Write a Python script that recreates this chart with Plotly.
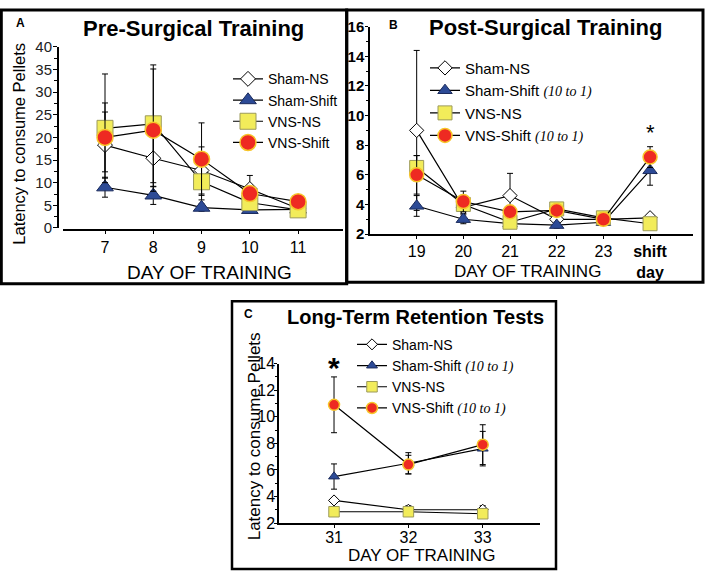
import plotly.graph_objects as go

W, H = 708, 580
def px(x): return x / W
def py(y): return 1 - y / H

# ---------------- data ----------------
series = ["Sham-NS", "Sham-Shift", "VNS-NS", "VNS-Shift"]

# Panel A: Pre-Surgical Training
days_a = [7, 8, 9, 10, 11]
sham_ns_a = [18.3, 15.4, 12.7, 8.6, 4.3]
sham_ns_a_err = [7.3, 6.3, 5.2, 3.0, 0.6]
sham_shift_a = [9.0, 7.2, 4.5, 4.0, 4.1]
sham_shift_a_err = [2.2, 2.0, 0.8, 0.5, 0.4]
vns_ns_a = [22.0, 23.0, 10.2, 5.6, 4.0]
vns_ns_a_err = [12.0, 13.0, 4.0, 1.5, 0.5]
vns_shift_a = [20.0, 21.6, 15.2, 7.6, 5.8]
vns_shift_a_err = [7.6, 13.5, 8.0, 1.5, 0.5]

# Panel B: Post-Surgical Training
days_b = [19, 20, 21, 22, 23, 24]
ticks_b = ["19", "20", "21", "22", "23", "<b>shift</b><br><b>day</b>"]
sham_ns_b = [9.0, 3.8, 4.6, 3.0, 3.0, 3.1]
sham_ns_b_err = [5.4, 0.4, 1.5, 0.3, 0.2, 0.2]
sham_shift_b = [3.9, 3.0, 2.7, 2.6, 2.8, 6.3]
sham_shift_b_err = [0.7, 0.3, 0.2, 0.2, 0.2, 1.0]
vns_ns_b = [6.5, 4.0, 2.8, 3.7, 3.1, 2.7]
vns_ns_b_err = [0.8, 0.3, 0.2, 0.2, 0.2, 0.2]
vns_shift_b = [6.0, 4.2, 3.5, 3.6, 3.0, 7.2]
vns_shift_b_err = [1.3, 0.7, 0.3, 0.3, 0.2, 0.7]

# Panel C: Long-Term Retention Tests
days_c = [31, 32, 33]
sham_ns_c = [3.7, 3.0, 3.0]
sham_ns_c_err = [0.2, 0.3, 0.3]
sham_shift_c = [5.5, 6.5, 7.6]
sham_shift_c_err = [0.95, 0.8, 1.3]
vns_ns_c = [2.85, 2.85, 2.7]
vns_ns_c_err = [0.1, 0.1, 0.1]
vns_shift_c = [10.9, 6.4, 7.9]
vns_shift_c_err = [2.1, 0.7, 1.5]

# ---------------- styles ----------------
FONT = "Liberation Sans, Arial, sans-serif"
BLUE = "#2c4a96"
YEL = "#f2ec5a"
RED = "#ee2a22"
GOLD = "#f7c52a"

def mstyle(kind, size):
    if kind == 0:
        return dict(symbol="diamond", size=size, color="white", line=dict(color="black", width=1))
    if kind == 1:
        return dict(symbol="triangle-up", size=size, color=BLUE, line=dict(color="#1b2b5c", width=1))
    if kind == 2:
        return dict(symbol="square", size=size, color=YEL, line=dict(color="#9c9a5a", width=1))
    return dict(symbol="circle", size=size, color=RED, line=dict(color=GOLD, width=1.5))

SERIF = "<span style=\"font-family:'Liberation Serif', serif; font-style:italic; font-size:14px\">(10 to 1)</span>"

fig = go.Figure()

def add_panel(xs, ys_list, errs_list, sizes, xa, ya, legend, names):
    for k in range(4):
        fig.add_trace(go.Scatter(
            x=xs, y=ys_list[k], mode="lines+markers", name=names[k],
            line=dict(color="black", width=1.2),
            marker=mstyle(k, sizes[k]),
            error_y=dict(type="data", array=errs_list[k], color="black", thickness=1, width=3),
            xaxis=xa, yaxis=ya, legend=legend, cliponaxis=False,
        ))

add_panel(days_a, [sham_ns_a, sham_shift_a, vns_ns_a, vns_shift_a],
          [sham_ns_a_err, sham_shift_a_err, vns_ns_a_err, vns_shift_a_err],
          [11.5, 14.5, 16, 16], "x", "y", "legend", series)

names_bc = ["Sham-NS", "Sham-Shift " + SERIF, "VNS-NS", "VNS-Shift " + SERIF]
add_panel(days_b, [sham_ns_b, sham_shift_b, vns_ns_b, vns_shift_b],
          [sham_ns_b_err, sham_shift_b_err, vns_ns_b_err, vns_shift_b_err],
          [11, 12.5, 14, 14], "x2", "y2", "legend2", names_bc)

add_panel(days_c, [sham_ns_c, sham_shift_c, vns_ns_c, vns_shift_c],
          [sham_ns_c_err, sham_shift_c_err, vns_ns_c_err, vns_shift_c_err],
          [8.5, 9.5, 10.5, 11], "x3", "y3", "legend3", names_bc)

axis_common = dict(showgrid=False, zeroline=False, showline=True, linecolor="black",
                   ticks="outside", tickcolor="black", color="black")

fig.update_layout(
    width=W, height=H,
    margin=dict(l=0, r=0, t=0, b=0),
    paper_bgcolor="white", plot_bgcolor="rgba(0,0,0,0)",
    font=dict(family=FONT, color="black"),
    showlegend=True,
    # Panel A
    xaxis=dict(domain=[px(63), px(343)], range=[6.13, 11.93], anchor="free", position=py(228),
               tickvals=days_a, ticklen=3, linewidth=2, tickfont=dict(size=16), **axis_common),
    yaxis=dict(domain=[py(226), py(39)], range=[0, 40], anchor="free", position=px(58),
               dtick=5, ticklen=4, linewidth=2, tickfont=dict(size=15, color="#222"), ticklabelstandoff=-2,
               minor=dict(dtick=2.5, ticks="outside", ticklen=3, tickcolor="black"), **axis_common),
    # Panel B
    xaxis2=dict(domain=[px(370), px(693)], range=[18.0, 24.92], anchor="y2",
                tickvals=days_b, ticktext=ticks_b, ticklen=3, linewidth=1.5, tickfont=dict(size=16),
                ticklabelstandoff=-1, **axis_common),
    yaxis2=dict(domain=[py(232.3), py(18.3)], range=[2, 16], anchor="x2",
                dtick=2, ticklen=3, linewidth=1.5, tickfont=dict(size=15, family="Liberation Sans, Arial", weight="bold"),
                ticklabelstandoff=-2,
                minor=dict(dtick=1, ticks="outside", ticklen=2, tickcolor="black"), **axis_common),
    # Panel C
    xaxis3=dict(domain=[px(279), px(540)], range=[30.26, 33.77], anchor="y3",
                tickvals=days_c, ticklen=3, linewidth=1.5, tickfont=dict(size=16), ticklabelstandoff=-4,
                **axis_common),
    yaxis3=dict(domain=[py(530.5), py(366)], range=[2, 14], anchor="x3",
                dtick=2, ticklen=3, linewidth=1.5, tickfont=dict(size=16), ticklabelstandoff=-4,
                minor=dict(dtick=1, ticks="outside", ticklen=2, tickcolor="black"), **axis_common),
    legend=dict(x=px(228), y=py(56), xanchor="left", yanchor="top", bgcolor="rgba(0,0,0,0)",
                font=dict(size=14), tracegroupgap=0),
    legend2=dict(x=px(425), y=py(44), xanchor="left", yanchor="top", bgcolor="rgba(0,0,0,0)",
                 font=dict(size=15), tracegroupgap=0),
    legend3=dict(x=px(352), y=py(330), xanchor="left", yanchor="top", bgcolor="rgba(0,0,0,0)",
                 font=dict(size=14), tracegroupgap=0),
)

# Panel borders
shapes = [
    dict(type="rect", xref="paper", yref="paper", x0=px(1.3), x1=px(346.7), y0=py(1), y1=py(283.5),
         line=dict(color="black", width=3)),
    dict(type="rect", xref="paper", yref="paper", x0=px(346.7), x1=px(703), y0=py(1), y1=py(282),
         line=dict(color="black", width=3)),
    dict(type="rect", xref="paper", yref="paper", x0=px(232), x1=px(556), y0=py(301.5), y1=py(578),
         line=dict(color="black", width=2.5)),
]
fig.update_layout(shapes=shapes)

def ann(text, x, y, size, bold=False, angle=0, xanchor="center"):
    fig.add_annotation(text=("<b>%s</b>" % text) if bold else text, x=x, y=y,
                       xref="paper", yref="paper",
                       showarrow=False, textangle=angle, font=dict(size=size, family=FONT, color="black"),
                       xanchor=xanchor, yanchor="middle")

# Titles and labels
ann("Pre-Surgical Training", px(193.5), py(20), 22, bold=True)
ann("Post-Surgical Training", px(545.5), py(19.5), 22, bold=True)
ann("Long-Term Retention Tests", px(285), py(318), 20, bold=True, xanchor="left")
ann("A", px(20), py(14), 12, bold=True)
ann("B", px(393), py(16), 12, bold=True)
ann("C", px(248), py(315), 12, bold=True)

ann("Latency to consume Pellets", px(19), py(139), 16.5, angle=-90)
ann("DAY OF TRAINING", px(209), py(272), 19)
ann("DAY OF TRAINING", px(527.5), py(271), 17)
ann("Latency to consume Pellets", px(254), py(441), 17, angle=-90)
ann("DAY OF TRAINING", px(421), py(564), 17)

# significance stars
fig.add_annotation(text="*", x=24, y=8.84, xref="x2", yref="y2", showarrow=False,
                   font=dict(size=22, family=FONT, color="black"))
fig.add_annotation(text="<b>*</b>", x=31, y=13.7, xref="x3", yref="y3", showarrow=False,
                   font=dict(size=30, family=FONT, color="black"))

POST = ("var d=document.getElementById('{plot_id}');"
        "d.style.position='fixed';d.style.left='0px';d.style.top='0px';"
        "document.documentElement.style.margin='0';document.body.style.margin='0';"
        "document.documentElement.style.overflow='hidden';document.body.style.overflow='hidden';")
fig.write_html("out.html", post_script=POST, config={"displayModeBar": False})
